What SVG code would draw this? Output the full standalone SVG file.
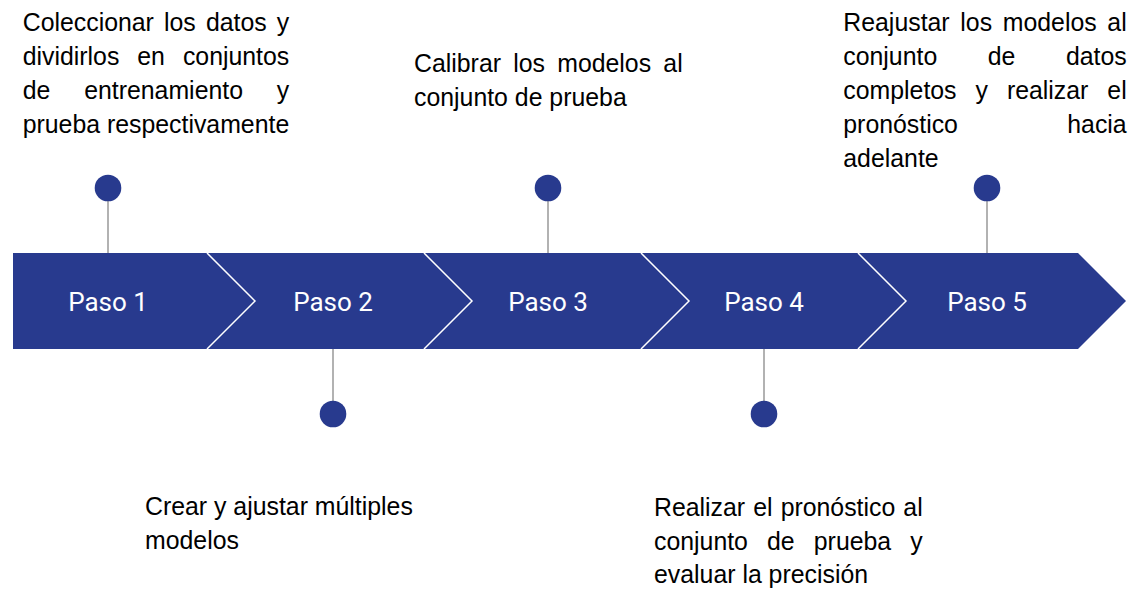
<svg xmlns="http://www.w3.org/2000/svg" width="1138" height="596" viewBox="0 0 1138 596">
<style>
.bar{fill:#283A8E;}
.seam{fill:none;stroke:#FFFFFF;stroke-width:1.5;}
.pin{stroke:#999999;stroke-width:1.5;}
.dot{fill:#283A8E;}
.lbl{font-family:Roboto,"Liberation Sans",sans-serif;font-size:26px;fill:#FFFFFF;text-anchor:middle;}
.desc{font-family:"Liberation Sans",Arial,sans-serif;font-size:24.85px;fill:#000000;}
</style>
<rect width="1138" height="596" fill="#FFFFFF"/>
<g id="connectors">
<line class="pin" x1="108" y1="200" x2="108" y2="253"/>
<line class="pin" x1="333" y1="349" x2="333" y2="402"/>
<line class="pin" x1="548" y1="200" x2="548" y2="253"/>
<line class="pin" x1="764" y1="349" x2="764" y2="402"/>
<line class="pin" x1="987" y1="200" x2="987" y2="253"/>
</g>
<g id="step1">
<polygon class="bar" points="13,253 207,253 255,301 207,349 13,349"/>
<text class="lbl" x="108" y="311">Paso 1</text>
<circle class="dot" cx="108" cy="188" r="13.3"/>
</g>
<g id="step2">
<polygon class="bar" points="207,253 424,253 472,301 424,349 207,349 255,301"/>
<text class="lbl" x="333" y="311">Paso 2</text>
<circle class="dot" cx="333" cy="414" r="13.3"/>
</g>
<g id="step3">
<polygon class="bar" points="424,253 641,253 689,301 641,349 424,349 472,301"/>
<text class="lbl" x="548" y="311">Paso 3</text>
<circle class="dot" cx="548" cy="188" r="13.3"/>
</g>
<g id="step4">
<polygon class="bar" points="641,253 858,253 906,301 858,349 641,349 689,301"/>
<text class="lbl" x="764" y="311">Paso 4</text>
<circle class="dot" cx="764" cy="414" r="13.3"/>
</g>
<g id="step5">
<polygon class="bar" points="858,253 1078,253 1126,301 1078,349 858,349 906,301"/>
<text class="lbl" x="987" y="311">Paso 5</text>
<circle class="dot" cx="987" cy="188" r="13.3"/>
</g>
<g id="seams">
<polyline class="seam" points="207,253 255,301 207,349"/>
<polyline class="seam" points="424,253 472,301 424,349"/>
<polyline class="seam" points="641,253 689,301 641,349"/>
<polyline class="seam" points="858,253 906,301 858,349"/>
</g>
<g id="text1">
<text class="desc" x="22.7" y="31.3" style="word-spacing:3.24px">Coleccionar los datos y</text>
<text class="desc" x="22.7" y="65.1" style="word-spacing:11.07px">dividirlos en conjuntos</text>
<text class="desc" x="22.7" y="98.9" style="word-spacing:26.94px">de entrenamiento y</text>
<text class="desc" x="22.7" y="132.7">prueba respectivamente</text>
</g>
<g id="text2">
<text class="desc" x="145" y="515">Crear y ajustar múltiples</text>
<text class="desc" x="145" y="548.8">modelos</text>
</g>
<g id="text3">
<text class="desc" x="414" y="71.7" style="word-spacing:5.33px">Calibrar los modelos al</text>
<text class="desc" x="414" y="105.5">conjunto de prueba</text>
</g>
<g id="text4">
<text class="desc" x="654" y="515.7" style="word-spacing:1.18px">Realizar el pronóstico al</text>
<text class="desc" x="654" y="549.5" style="word-spacing:12.21px">conjunto de prueba y</text>
<text class="desc" x="654" y="583.3">evaluar la precisión</text>
</g>
<g id="text5">
<text class="desc" x="843.3" y="31.3" style="word-spacing:3.78px">Reajustar los modelos al</text>
<text class="desc" x="843.3" y="65.1" style="word-spacing:43.61px">conjunto de datos</text>
<text class="desc" x="843.3" y="98.9" style="word-spacing:12.07px">completos y realizar el</text>
<text class="desc" x="843.3" y="132.7" style="word-spacing:102.46px">pronóstico hacia</text>
<text class="desc" x="843.3" y="166.5">adelante</text>
</g>
</svg>
